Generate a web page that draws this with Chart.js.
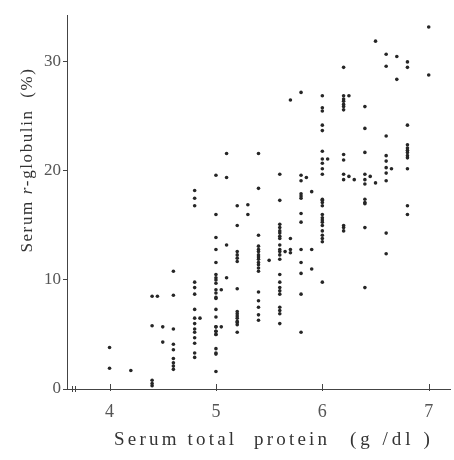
<!DOCTYPE html>
<html>
<head>
<meta charset="utf-8">
<script src="https://cdn.jsdelivr.net/npm/chart.js@4"></script>
<style>
  html, body { margin: 0; padding: 0; background: #fff; }
</style>
</head>
<body>
<canvas id="grafico" width="454" height="460"></canvas>
<script>
// Serum total protein (g/dl): one entry per column of dots
const proteinLevels = [4.0, 4.2, 4.4, 4.45, 4.5, 4.6, 4.8, 4.85, 5.0, 5.05, 5.1, 5.2, 5.3, 5.4, 5.5,
    5.6, 5.65, 5.7, 5.8, 5.85, 5.9, 6.0, 6.05, 6.2, 6.25, 6.3, 6.4, 6.45, 6.5, 6.6, 6.65, 6.7, 6.8, 7.0];

// Serum r-globulin (%) read for each protein level above
const globulinByLevel = [
    [3.8, 1.9],
    [1.7],
    [8.5, 5.8, 0.8, 0.5, 0.3],
    [8.5],
    [5.7, 4.3],
    [10.8, 8.6, 5.5, 4.1, 3.6, 2.8, 2.4, 2.1, 1.8],
    [18.2, 17.5, 16.8, 9.8, 9.3, 8.7, 7.3, 6.5, 6.0, 5.5, 5.2, 4.7, 4.2, 3.3, 2.9],
    [6.5],
    [19.6, 16.0, 13.9, 12.8, 11.6, 10.5, 10.2, 10.0, 9.7, 9.1, 8.8, 8.4, 8.3, 7.3, 6.6, 5.7, 5.7, 5.3, 5.3, 5.0, 5.0, 3.7, 3.3, 3.2, 1.6],
    [9.1, 5.7],
    [21.6, 19.4, 13.2, 10.2],
    [16.8, 15.0, 12.6, 12.3, 12.0, 11.7, 9.2, 7.1, 6.9, 6.7, 6.5, 6.2, 6.1, 5.9, 5.2],
    [16.9, 16.0],
    [21.6, 18.4, 14.1, 13.1, 12.8, 12.6, 12.3, 12.1, 11.9, 11.6, 11.4, 11.1, 10.8, 8.9, 8.1, 7.5, 6.8, 6.3],
    [11.8],
    [19.7, 17.3, 15.1, 14.8, 14.5, 14.3, 14.0, 13.8, 13.2, 12.8, 12.6, 12.3, 11.9, 10.5, 9.8, 9.3, 9.0, 8.7, 7.5, 7.2, 6.9, 6.0],
    [12.6],
    [26.5, 13.8, 12.8, 12.5],
    [27.2, 19.6, 19.1, 17.9, 17.7, 17.5, 16.1, 15.3, 12.8, 11.6, 10.6, 8.7, 5.2],
    [19.4],
    [18.1, 12.8, 11.0],
    [26.9, 25.8, 25.5, 24.2, 23.7, 21.8, 21.1, 20.7, 20.2, 19.7, 17.4, 17.3, 17.1, 16.8, 16.0, 15.7, 15.5, 15.3, 15.0, 14.5, 14.1, 13.8, 13.5, 9.8],
    [21.1],
    [29.5, 26.9, 26.6, 26.4, 26.1, 25.9, 25.6, 21.5, 21.0, 19.7, 19.2, 15.0, 14.8, 14.5],
    [26.9, 19.5],
    [19.2],
    [25.9, 23.9, 21.7, 19.7, 19.2, 18.8, 17.4, 17.1, 17.0, 14.8, 9.3],
    [19.5],
    [31.9, 18.9],
    [30.7, 29.6, 23.2, 21.4, 20.9, 20.3, 19.8, 19.1, 14.3, 12.4],
    [20.2],
    [30.5, 28.4],
    [30.0, 29.5, 24.2, 22.4, 22.1, 21.9, 21.7, 21.4, 21.2, 20.2, 16.8, 16.0],
    [33.2, 28.8]
];

const xTicks = [4, 5, 6, 7];
const yTicks = [0, 10, 20, 30];

const puntos = [];
proteinLevels.forEach((p, i) => {
    globulinByLevel[i].forEach(g => puntos.push({ x: p, y: g }));
});

const serif = '"Liberation Serif", "DejaVu Serif", serif';

// marcas hacia dentro, corte del eje y titulos
const ejesPlugin = {
    id: 'ejes',
    afterDraw(chart) {
        const { ctx, chartArea, scales } = chart;
        ctx.save();
        ctx.strokeStyle = '#444';
        ctx.lineWidth = 1;
        xTicks.forEach(v => {
            const px = Math.round(scales.x.getPixelForValue(v)) + 0.5;
            ctx.beginPath();
            ctx.moveTo(px, chartArea.bottom + 2);
            ctx.lineTo(px, chartArea.bottom - 5);
            ctx.stroke();
        });
        // signo de corte del eje x
        [4.5, 7.5].forEach(dx => {
            const px = Math.round(chartArea.left + dx) + 0.5;
            ctx.beginPath();
            ctx.moveTo(px, chartArea.bottom - 3);
            ctx.lineTo(px, chartArea.bottom + 3);
            ctx.stroke();
        });

        ctx.fillStyle = '#333';
        ctx.textBaseline = 'middle';
        ctx.font = '19px ' + serif;
        ctx.letterSpacing = '3.2px';
        ctx.textAlign = 'left';
        ctx.fillText('Serum total', 114, 440);
        ctx.fillText('protein', 254, 440);
        ctx.letterSpacing = '4px';
        ctx.fillText('(g /dl )', 350, 440);

        // titulo del eje y con la r en cursiva
        ctx.translate(28, 160);
        ctx.rotate(-Math.PI / 2);
        ctx.letterSpacing = '1.6px';
        const partes = [
            { t: 'Serum ', f: '17px ' + serif },
            { t: 'r', f: 'italic 17px ' + serif },
            { t: '-globulin  (%)', f: '17px ' + serif }
        ];
        let total = 0;
        partes.forEach(p => { ctx.font = p.f; total += ctx.measureText(p.t).width; });
        let xx = -total / 2;
        partes.forEach(p => {
            ctx.font = p.f;
            ctx.fillText(p.t, xx, 0);
            xx += ctx.measureText(p.t).width;
        });
        ctx.restore();
    }
};

new Chart(document.getElementById('grafico').getContext('2d'), {
    type: 'scatter',
    data: {
        datasets: [{
            label: 'Serum r-globulin',
            data: puntos,
            backgroundColor: '#262626',
            borderWidth: 0,
            pointRadius: 1.8
        }]
    },
    options: {
        responsive: false,
        animation: false,
        layout: { padding: { top: 15, right: 0, bottom: 0, left: 0 } },
        plugins: {
            legend: { display: false },
            tooltip: { enabled: false }
        },
        scales: {
            x: {
                type: 'linear',
                min: 3.6,
                max: 7.2,
                afterBuildTicks: s => { s.ticks = xTicks.map(v => ({ value: v })); },
                afterFit: s => { s.height = 71; },
                grid: { drawOnChartArea: false, drawTicks: false },
                border: { color: '#444', width: 1 },
                ticks: { padding: 12, color: '#555', font: { family: serif, size: 18 } }
            },
            y: {
                min: 0,
                max: 34.3,
                afterBuildTicks: s => { s.ticks = yTicks.map(v => ({ value: v })); },
                afterFit: s => { s.width = 67; },
                grid: { drawOnChartArea: false, tickLength: 4, color: '#444' },
                border: { color: '#444', width: 1 },
                ticks: { padding: 2, color: '#555', font: { family: serif, size: 17 } }
            }
        }
    },
    plugins: [ejesPlugin]
});
</script>
</body>
</html>
